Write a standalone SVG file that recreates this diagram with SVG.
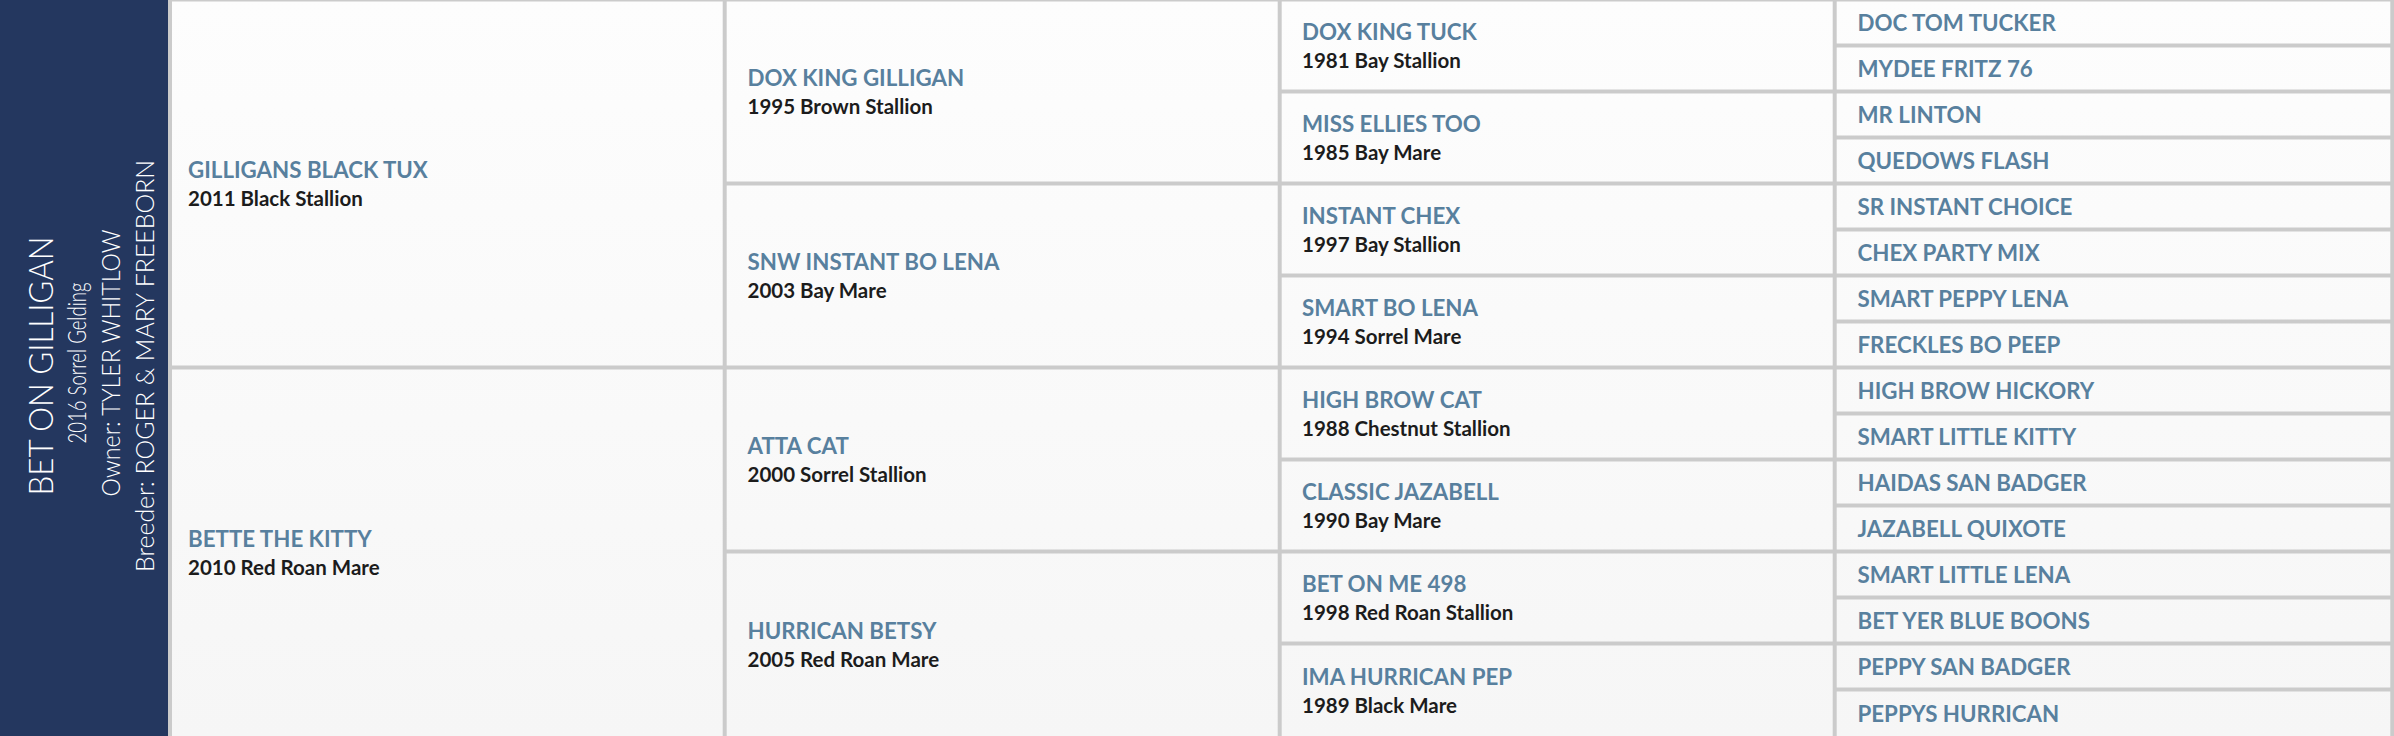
<svg xmlns="http://www.w3.org/2000/svg" width="2394" height="736" viewBox="0 0 2394 736">
<style>
.cell{fill:url(#cg)}
.nm{font-family:Lato,"Noto Sans",sans-serif;font-weight:700;font-size:22.3px;fill:#58809e}
.sb{font-family:Lato,"Noto Sans",sans-serif;font-weight:700;font-size:20.5px;fill:#1c1c1c}
.pt{font-family:Lato,"Noto Sans",sans-serif;font-weight:300;fill:#ffffff}
</style>
<defs>
<linearGradient id="cg" gradientUnits="userSpaceOnUse" x1="0" y1="0" x2="0" y2="736">
<stop offset="0" stop-color="#fdfdfd"/><stop offset="1" stop-color="#f6f6f6"/>
</linearGradient>
</defs>
<rect x="0" y="0" width="2394" height="736" fill="#cbcbcb"/>
<g id="subject">
<rect x="0" y="0" width="168" height="736" fill="#24375f"/>
<text class="pt" font-size="33" text-anchor="middle" transform="translate(53,366) rotate(-90)" textLength="259" lengthAdjust="spacingAndGlyphs">BET ON GILLIGAN</text>
<text class="pt" font-size="25" text-anchor="middle" transform="translate(86,363) rotate(-90)" textLength="161" lengthAdjust="spacingAndGlyphs">2016 Sorrel Gelding</text>
<text class="pt" font-size="25" text-anchor="middle" transform="translate(120,363) rotate(-90)" textLength="267" lengthAdjust="spacingAndGlyphs">Owner: TYLER WHITLOW</text>
<text class="pt" font-size="25" text-anchor="middle" transform="translate(154,366) rotate(-90)" textLength="412" lengthAdjust="spacingAndGlyphs">Breeder: ROGER &amp; MARY FREEBORN</text>
</g>
<g id="connectors"></g>
<g id="sire">
<rect class="cell" x="172" y="1.5" width="550.7" height="364"/>
<text class="nm" x="188" y="178">GILLIGANS BLACK TUX</text>
<text class="sb" x="188" y="206">2011 Black Stallion</text>
</g>
<g id="dam">
<rect class="cell" x="172" y="369.5" width="550.7" height="366.5"/>
<text class="nm" x="188" y="547">BETTE THE KITTY</text>
<text class="sb" x="188" y="575">2010 Red Roan Mare</text>
</g>
<g id="ss">
<rect class="cell" x="726.7" y="1.5" width="551" height="180"/>
<text class="nm" x="747.5" y="86">DOX KING GILLIGAN</text>
<text class="sb" x="747.5" y="114">1995 Brown Stallion</text>
</g>
<g id="sd">
<rect class="cell" x="726.7" y="185.5" width="551" height="180"/>
<text class="nm" x="747.5" y="270">SNW INSTANT BO LENA</text>
<text class="sb" x="747.5" y="298">2003 Bay Mare</text>
</g>
<g id="ds">
<rect class="cell" x="726.7" y="369.5" width="551" height="180"/>
<text class="nm" x="747.5" y="454">ATTA CAT</text>
<text class="sb" x="747.5" y="482">2000 Sorrel Stallion</text>
</g>
<g id="dd">
<rect class="cell" x="726.7" y="553.5" width="551" height="182.5"/>
<text class="nm" x="747.5" y="639">HURRICAN BETSY</text>
<text class="sb" x="747.5" y="667">2005 Red Roan Mare</text>
</g>
<g id="sss">
<rect class="cell" x="1281.7" y="1.5" width="551" height="88"/>
<text class="nm" x="1302" y="40">DOX KING TUCK</text>
<text class="sb" x="1302" y="68">1981 Bay Stallion</text>
</g>
<g id="ssd">
<rect class="cell" x="1281.7" y="93.5" width="551" height="88"/>
<text class="nm" x="1302" y="132">MISS ELLIES TOO</text>
<text class="sb" x="1302" y="160">1985 Bay Mare</text>
</g>
<g id="sds">
<rect class="cell" x="1281.7" y="185.5" width="551" height="88"/>
<text class="nm" x="1302" y="224">INSTANT CHEX</text>
<text class="sb" x="1302" y="252">1997 Bay Stallion</text>
</g>
<g id="sdd">
<rect class="cell" x="1281.7" y="277.5" width="551" height="88"/>
<text class="nm" x="1302" y="316">SMART BO LENA</text>
<text class="sb" x="1302" y="344">1994 Sorrel Mare</text>
</g>
<g id="dss">
<rect class="cell" x="1281.7" y="369.5" width="551" height="88"/>
<text class="nm" x="1302" y="408">HIGH BROW CAT</text>
<text class="sb" x="1302" y="436">1988 Chestnut Stallion</text>
</g>
<g id="dsd">
<rect class="cell" x="1281.7" y="461.5" width="551" height="88"/>
<text class="nm" x="1302" y="500">CLASSIC JAZABELL</text>
<text class="sb" x="1302" y="528">1990 Bay Mare</text>
</g>
<g id="dds">
<rect class="cell" x="1281.7" y="553.5" width="551" height="88"/>
<text class="nm" x="1302" y="592">BET ON ME 498</text>
<text class="sb" x="1302" y="620">1998 Red Roan Stallion</text>
</g>
<g id="ddd">
<rect class="cell" x="1281.7" y="645.5" width="551" height="90.5"/>
<text class="nm" x="1302" y="685">IMA HURRICAN PEP</text>
<text class="sb" x="1302" y="713">1989 Black Mare</text>
</g>
<g id="g4-01"><rect class="cell" x="1836.7" y="1.5" width="553.6" height="42"/><text class="nm" x="1857.5" y="31">DOC TOM TUCKER</text></g>
<g id="g4-02"><rect class="cell" x="1836.7" y="47.5" width="553.6" height="42"/><text class="nm" x="1857.5" y="77">MYDEE FRITZ 76</text></g>
<g id="g4-03"><rect class="cell" x="1836.7" y="93.5" width="553.6" height="42"/><text class="nm" x="1857.5" y="123">MR LINTON</text></g>
<g id="g4-04"><rect class="cell" x="1836.7" y="139.5" width="553.6" height="42"/><text class="nm" x="1857.5" y="169">QUEDOWS FLASH</text></g>
<g id="g4-05"><rect class="cell" x="1836.7" y="185.5" width="553.6" height="42"/><text class="nm" x="1857.5" y="215">SR INSTANT CHOICE</text></g>
<g id="g4-06"><rect class="cell" x="1836.7" y="231.5" width="553.6" height="42"/><text class="nm" x="1857.5" y="261">CHEX PARTY MIX</text></g>
<g id="g4-07"><rect class="cell" x="1836.7" y="277.5" width="553.6" height="42"/><text class="nm" x="1857.5" y="307">SMART PEPPY LENA</text></g>
<g id="g4-08"><rect class="cell" x="1836.7" y="323.5" width="553.6" height="42"/><text class="nm" x="1857.5" y="353">FRECKLES BO PEEP</text></g>
<g id="g4-09"><rect class="cell" x="1836.7" y="369.5" width="553.6" height="42"/><text class="nm" x="1857.5" y="399">HIGH BROW HICKORY</text></g>
<g id="g4-10"><rect class="cell" x="1836.7" y="415.5" width="553.6" height="42"/><text class="nm" x="1857.5" y="445">SMART LITTLE KITTY</text></g>
<g id="g4-11"><rect class="cell" x="1836.7" y="461.5" width="553.6" height="42"/><text class="nm" x="1857.5" y="491">HAIDAS SAN BADGER</text></g>
<g id="g4-12"><rect class="cell" x="1836.7" y="507.5" width="553.6" height="42"/><text class="nm" x="1857.5" y="537">JAZABELL QUIXOTE</text></g>
<g id="g4-13"><rect class="cell" x="1836.7" y="553.5" width="553.6" height="42"/><text class="nm" x="1857.5" y="583">SMART LITTLE LENA</text></g>
<g id="g4-14"><rect class="cell" x="1836.7" y="599.5" width="553.6" height="42"/><text class="nm" x="1857.5" y="629">BET YER BLUE BOONS</text></g>
<g id="g4-15"><rect class="cell" x="1836.7" y="645.5" width="553.6" height="42"/><text class="nm" x="1857.5" y="675">PEPPY SAN BADGER</text></g>
<g id="g4-16"><rect class="cell" x="1836.7" y="691.5" width="553.6" height="44.5"/><text class="nm" x="1857.5" y="722">PEPPYS HURRICAN</text></g>
</svg>
